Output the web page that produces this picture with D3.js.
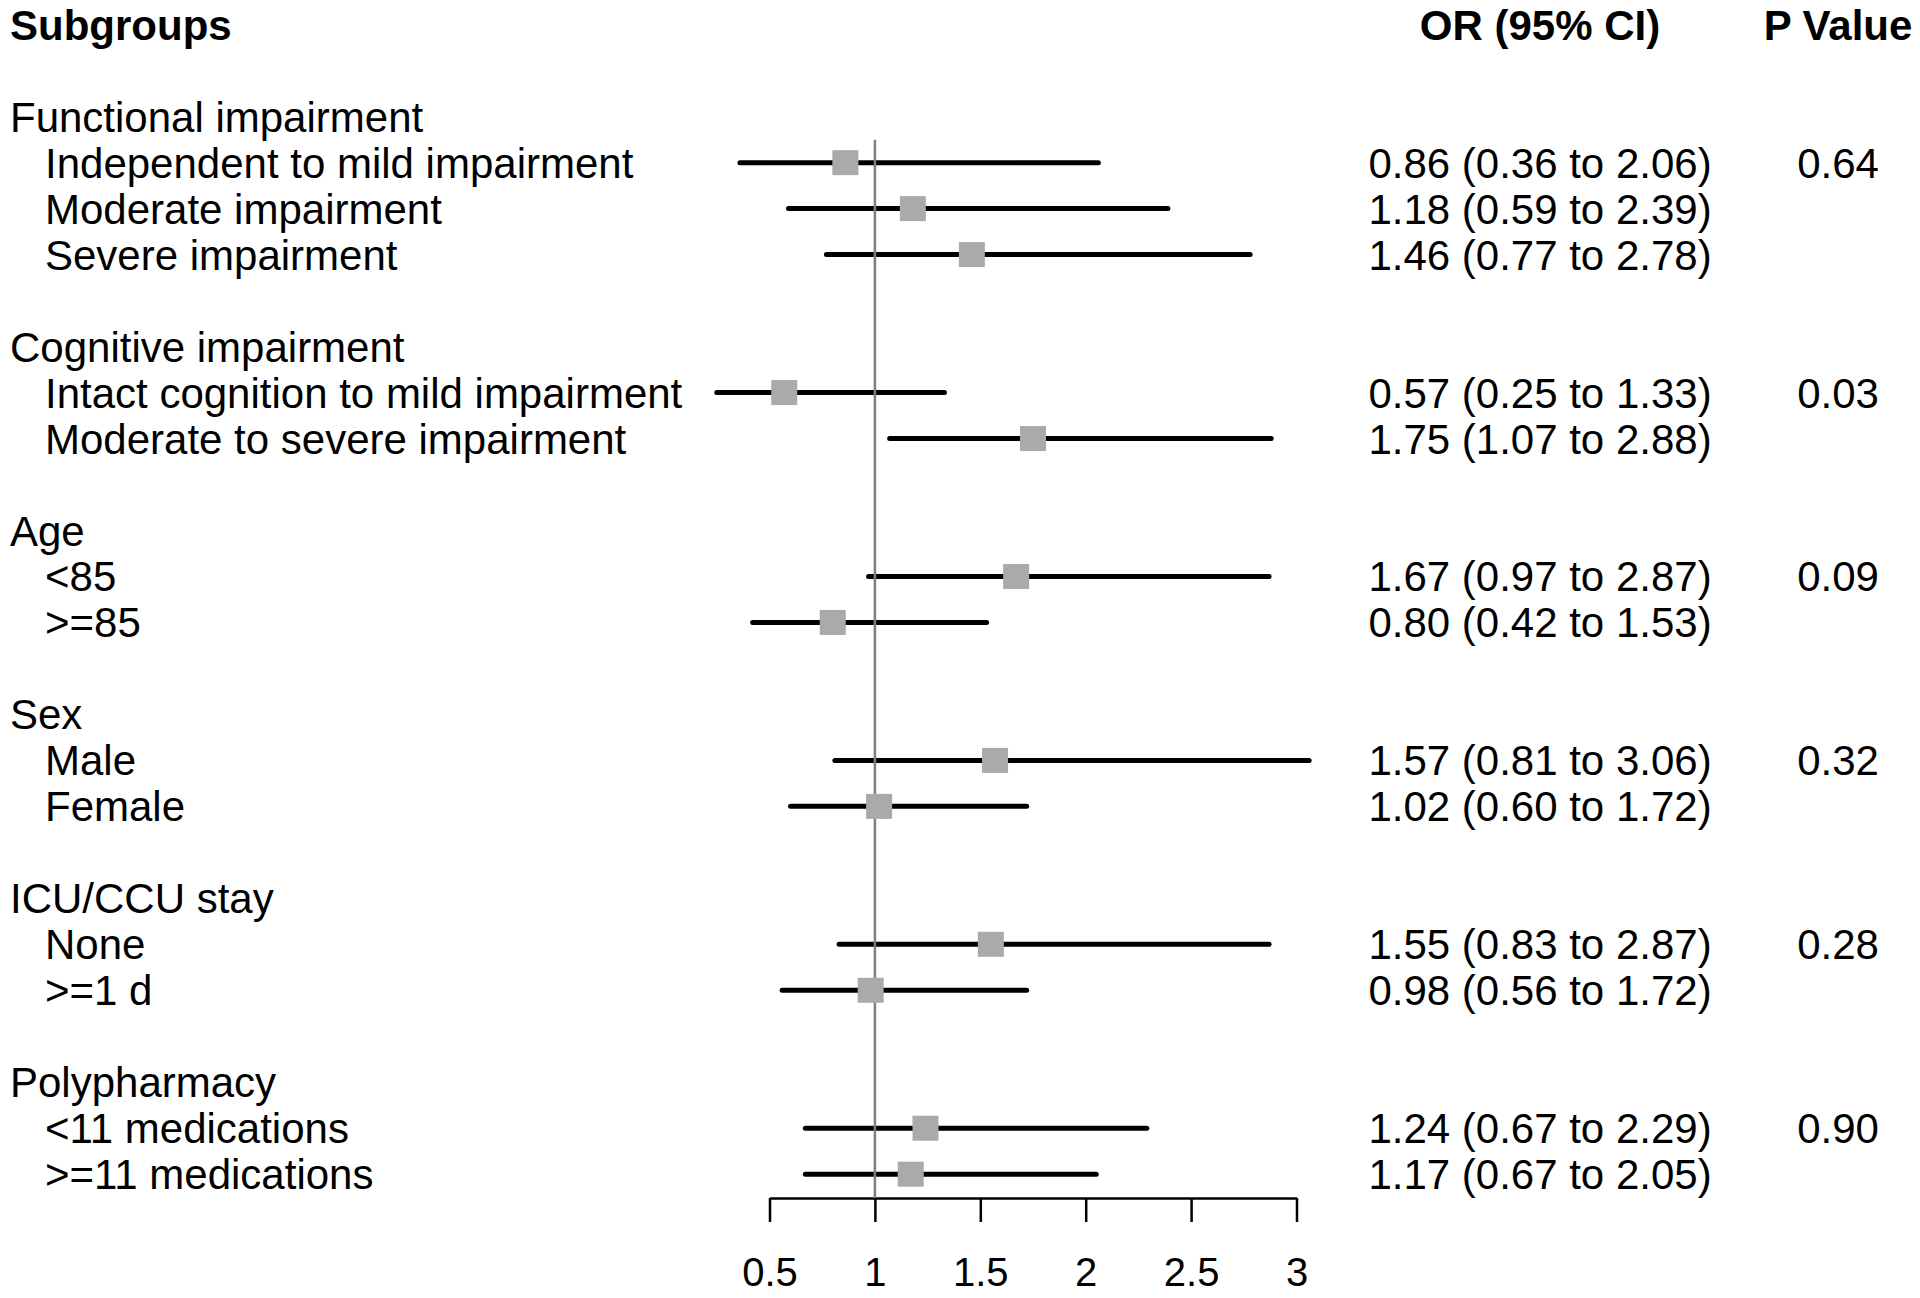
<!DOCTYPE html>
<html>
<head>
<meta charset="utf-8">
<script src="https://cdn.jsdelivr.net/npm/d3@7/dist/d3.min.js"></script>
<style>
  html, body { margin: 0; padding: 0; background: #ffffff; }
  svg { display: block; }
  text { font-family: "Liberation Sans", Arial, Helvetica, sans-serif; fill: #000; }
</style>
</head>
<body>
<svg id="chart" width="1920" height="1298"></svg>
<script>
// ---------------- data ----------------
const groupLabels = ["Functional impairment", "Cognitive impairment", "Age", "Sex", "ICU/CCU stay", "Polypharmacy"];
const subgroupLabels = [
  "Independent to mild impairment", "Moderate impairment", "Severe impairment",
  "Intact cognition to mild impairment", "Moderate to severe impairment",
  "<85", ">=85",
  "Male", "Female",
  "None", ">=1 d",
  "<11 medications", ">=11 medications"
];
const subgroupGroup = [0, 0, 0, 1, 1, 2, 2, 3, 3, 4, 4, 5, 5];
const oddsRatios = [0.86, 1.18, 1.46, 0.57, 1.75, 1.67, 0.80, 1.57, 1.02, 1.55, 0.98, 1.24, 1.17];
const ciLower    = [0.36, 0.59, 0.77, 0.25, 1.07, 0.97, 0.42, 0.81, 0.60, 0.83, 0.56, 0.67, 0.67];
const ciUpper    = [2.06, 2.39, 2.78, 1.33, 2.88, 2.87, 1.53, 3.06, 1.72, 2.87, 1.72, 2.29, 2.05];
const pValues    = ["0.64", "0.03", "0.09", "0.32", "0.28", "0.90"];
const xTicks     = [0.5, 1, 1.5, 2, 2.5, 3];
const headers    = ["Subgroups", "OR (95% CI)", "P Value"];

// ---------------- layout ----------------
const svg = d3.select("#chart");
const fmt = d3.format(".2f");

// assign line indices: header = 0, blank = 1, then groups separated by blanks
const rows = [];
let line = 2;
groupLabels.forEach((g, gi) => {
  rows.push({ type: "group", label: g, line: line });
  line++;
  let first = true;
  subgroupLabels.forEach((s, si) => {
    if (subgroupGroup[si] !== gi) return;
    rows.push({
      type: "sub", label: s, line: line,
      or: oddsRatios[si], lo: ciLower[si], hi: ciUpper[si],
      p: first ? pValues[gi] : null
    });
    first = false;
    line++;
  });
  line++; // blank line
});
const lastLine = line - 2;

const y = d3.scaleLinear().domain([0, lastLine]).range([24.7, 24.7 + lastLine * 45.98]);
const x = d3.scaleLinear().domain([0.5, 3]).range([769.5, 1296.5]);

const fontSize = 42;
const baseOff = fontSize * 0.358;
const orCol = 1540;
const pCol = 1838;

// headers
svg.append("text").attr("x", 10).attr("y", y(0) + baseOff)
  .attr("font-size", fontSize).attr("font-weight", "bold").text(headers[0]);
svg.append("text").attr("x", orCol).attr("y", y(0) + baseOff).attr("text-anchor", "middle")
  .attr("font-size", fontSize).attr("font-weight", "bold").text(headers[1]);
svg.append("text").attr("x", pCol).attr("y", y(0) + baseOff).attr("text-anchor", "middle")
  .attr("font-size", fontSize).attr("font-weight", "bold").text(headers[2]);

// row labels
svg.append("g").selectAll("text").data(rows).join("text")
  .attr("x", d => d.type === "group" ? 10 : 45)
  .attr("y", d => y(d.line) + baseOff)
  .attr("font-size", fontSize)
  .text(d => d.label);

const subs = rows.filter(d => d.type === "sub");

// OR text
svg.append("g").selectAll("text").data(subs).join("text")
  .attr("x", orCol).attr("text-anchor", "middle")
  .attr("y", d => y(d.line) + baseOff)
  .attr("font-size", fontSize)
  .text(d => `${fmt(d.or)} (${fmt(d.lo)} to ${fmt(d.hi)})`);

// P values
svg.append("g").selectAll("text").data(subs.filter(d => d.p !== null)).join("text")
  .attr("x", pCol).attr("text-anchor", "middle")
  .attr("y", d => y(d.line) + baseOff)
  .attr("font-size", fontSize)
  .text(d => d.p);

// CI lines
svg.append("g").selectAll("line").data(subs).join("line")
  .attr("x1", d => x(d.lo)).attr("x2", d => x(d.hi))
  .attr("y1", d => y(d.line)).attr("y2", d => y(d.line))
  .attr("stroke", "#000").attr("stroke-width", 5).attr("stroke-linecap", "round");

// axis
const axisY = 1198;
const axis = d3.axisBottom(x).tickValues(xTicks).tickFormat(d3.format("")).tickSize(24).tickSizeOuter(0).tickPadding(36);
const ag = svg.append("g").attr("transform", `translate(0,${axisY})`).call(axis);
ag.select(".domain").attr("stroke", "#000").attr("stroke-width", 2.5);
ag.selectAll(".tick line").attr("stroke", "#000").attr("stroke-width", 2.5);
ag.selectAll(".tick text").attr("font-size", 40)
  .attr("font-family", "'Liberation Sans', Arial, Helvetica, sans-serif").attr("fill", "#000");

// reference line at OR = 1
svg.append("line")
  .attr("x1", x(1)).attr("x2", x(1))
  .attr("y1", y(2.5)).attr("y2", axisY)
  .attr("stroke", "#7f7f7f").attr("stroke-width", 2.5);

// markers
const boxW = 26, boxH = 25;
svg.append("g").selectAll("rect").data(subs).join("rect")
  .attr("x", d => x(d.or) - boxW / 2).attr("y", d => y(d.line) - boxH / 2)
  .attr("width", boxW).attr("height", boxH)
  .attr("fill", "#aaaaaa");
</script>
</body>
</html>
